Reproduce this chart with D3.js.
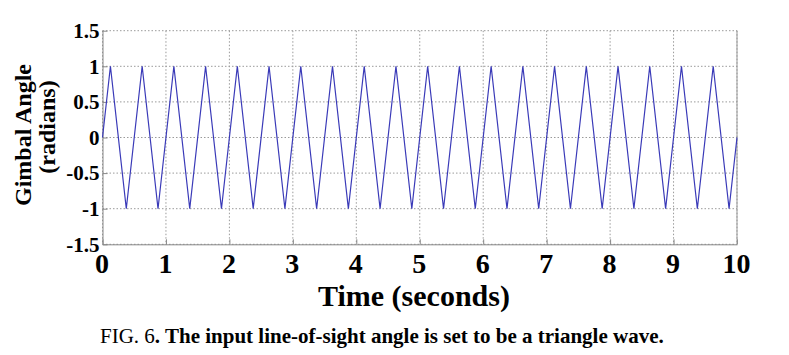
<!DOCTYPE html>
<html><head><meta charset="utf-8">
<script src="https://cdn.jsdelivr.net/npm/d3@7"></script>
<style>
html,body{margin:0;padding:0;background:#fff;}
svg{display:block;}
text{font-family:"Liberation Serif","Times New Roman",serif;}
</style></head>
<body>
<svg id="c" width="789" height="355"></svg>
<script>
// Triangle wave vertices (time in seconds, gimbal angle in radians)
const times = [0,0.125,0.375,0.625,0.875,1.125,1.375,1.625,1.875,2.125,2.375,2.625,2.875,3.125,3.375,3.625,3.875,4.125,4.375,4.625,4.875,5.125,5.375,5.625,5.875,6.125,6.375,6.625,6.875,7.125,7.375,7.625,7.875,8.125,8.375,8.625,8.875,9.125,9.375,9.625,9.875,10];
const angles = [0,1,-1,1,-1,1,-1,1,-1,1,-1,1,-1,1,-1,1,-1,1,-1,1,-1,1,-1,1,-1,1,-1,1,-1,1,-1,1,-1,1,-1,1,-1,1,-1,1,-1,0];
const xTicks = [0,1,2,3,4,5,6,7,8,9,10];
const yTicks = [-1.5,-1,-0.5,0,0.5,1,1.5];
const yTickLabels = ["-1.5","-1","-0.5","0","0.5","1","1.5"];

const svg = d3.select("#c");
const L = 102.5, R = 737, T = 30.7, B = 244.3;
const x = d3.scaleLinear().domain([0,10]).range([L,R]);
const y = d3.scaleLinear().domain([-1.5,1.5]).range([B,T]);

// grid
const grid = svg.append("g").attr("stroke","#9a9a9a").attr("stroke-width",1).attr("stroke-dasharray","1.5,2");
grid.selectAll(".gx").data(xTicks).join("line")
  .attr("x1",d=>x(d)).attr("x2",d=>x(d)).attr("y1",T).attr("y2",B);
grid.selectAll(".gy").data(yTicks).join("line")
  .attr("x1",L).attr("x2",R).attr("y1",d=>y(d)).attr("y2",d=>y(d));

// axes
const xAxis = d3.axisBottom(x).tickValues(xTicks).tickFormat(d3.format("d")).tickSizeInner(-5).tickSizeOuter(0).tickPadding(10);
const gx = svg.append("g").attr("transform",`translate(0,${B})`).call(xAxis);
gx.select(".domain").attr("stroke","#888");
gx.selectAll(".tick line").attr("stroke","#888");
gx.selectAll(".tick text").attr("font-size",28).attr("font-weight","bold").attr("fill","#000")
  .attr("font-family","'Liberation Serif',serif").attr("y",null).attr("dy",null)
  .attr("transform","translate(-1,28.7)");

const yAxis = d3.axisLeft(y).tickValues(yTicks).tickFormat(d=>yTickLabels[yTicks.indexOf(d)]).tickSizeInner(-5).tickSizeOuter(0).tickPadding(4);
const gy = svg.append("g").attr("transform",`translate(${L},0)`).call(yAxis);
gy.select(".domain").attr("stroke","#888");
gy.selectAll(".tick line").attr("stroke","#888");
gy.selectAll(".tick text").attr("font-size",21).attr("font-weight","bold").attr("fill","#000")
  .attr("font-family","'Liberation Serif',serif").attr("x",-3).attr("dy","0.32em");

// right border
svg.append("line").attr("x1",R).attr("x2",R).attr("y1",T).attr("y2",B).attr("stroke","#999");

// data line
const pts = times.map((t,i)=>[t,angles[i]]);
svg.append("path").datum(pts)
  .attr("fill","none").attr("stroke","#3a3ab8").attr("stroke-width",1.2)
  .attr("d",d3.line().x(d=>x(d[0])).y(d=>y(d[1])));

// axis titles
svg.append("text").attr("x",414).attr("y",306).attr("text-anchor","middle")
  .attr("font-size",30).attr("font-weight","bold").text("Time (seconds)");
svg.append("text").attr("transform","translate(31,135) rotate(-90)").attr("text-anchor","middle")
  .attr("font-size",24).attr("font-weight","bold").text("Gimbal Angle");
svg.append("text").attr("transform","translate(55,127) rotate(-90)").attr("text-anchor","middle")
  .attr("font-size",24).attr("font-weight","bold").text("(radians)");

// caption
const cap = svg.append("text").attr("x",100).attr("y",343).attr("font-size",21);
cap.append("tspan").text("FIG. 6");
cap.append("tspan").attr("font-weight","bold").text(". The input line-of-sight angle is set to be a triangle wave.");
</script>
</body></html>
